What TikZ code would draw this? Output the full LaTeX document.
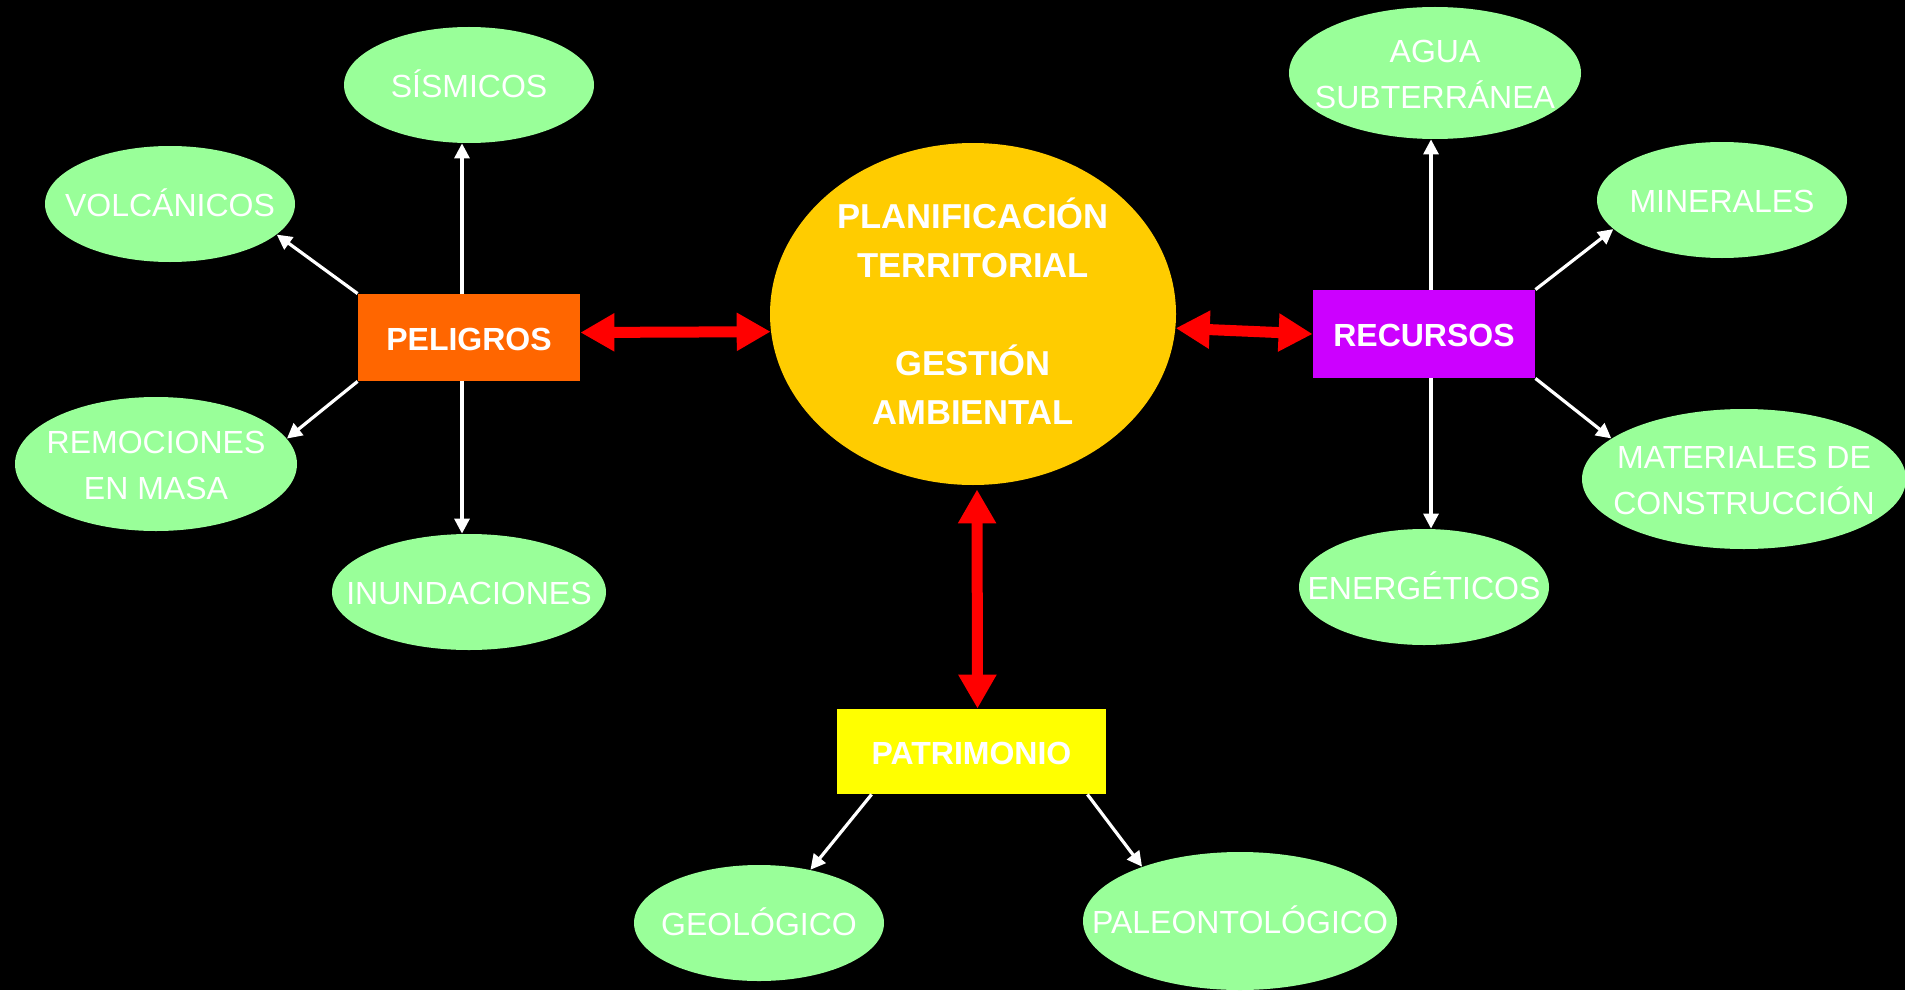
\documentclass[tikz,border=0pt]{standalone}
\usepackage{fontspec}
\setmainfont{Liberation Sans}
\usepackage{xcolor}
\usetikzlibrary{arrows.meta, shapes.geometric}
\definecolor{leafgreen}{HTML}{99FF99}
\definecolor{hazardorange}{HTML}{FF6600}
\definecolor{resourcepurple}{HTML}{CC00FF}
\definecolor{heritageyellow}{HTML}{FFFF00}
\definecolor{plangold}{HTML}{FFCC00}
\newcommand{\bubbletext}[1]{\makebox[0pt]{\raisebox{-1.5pt}[\height][\depth]{\begin{tabular}{@{}c@{}}#1\end{tabular}}}}
\newcommand{\hubtext}[1]{\raisebox{-0.8pt}[\height][\depth]{#1}}

\begin{document}
\begin{tikzpicture}[x=0.5pt, y=-0.5pt,
        leaf/.style={ellipse, fill=leafgreen, text=white, inner sep=0pt,
            minimum width=125pt, minimum height=58pt, font=\fontsize{16}{23}\selectfont},
        hub/.style={rectangle, text=white, inner sep=0pt,
            minimum width=111pt, minimum height=44pt, font=\bfseries\fontsize{16}{23}\selectfont},
        whitearrow/.style={color=white, line width=1.6pt, -{Triangle[width=7.5pt,length=7.5pt]}},
        redarrow/.style={color=red, line width=5.5pt,
            {Triangle[width=18pt,length=17pt]}-{Triangle[width=18pt,length=17pt]}}]
        \fill[black] (0,0) rectangle (1905,990);
        \useasboundingbox (0,0) rectangle (1905,990);

        % centre
        \node[ellipse, fill=plangold, text=white, inner sep=-4pt, minimum width=203pt, minimum height=171pt,
              font=\bfseries\fontsize{17.3}{24.5}\selectfont]
                                    (plan)   at (973,314)   {\bubbletext{PLANIFICACIÓN\\TERRITORIAL\\ \\GESTIÓN\\AMBIENTAL}};

        % hubs
        \node[hub, fill=hazardorange, minimum height=43.5pt]   (pel)    at (469,337.5)   {\hubtext{PELIGROS}};
        \node[hub, fill=resourcepurple]                         (rec)    at (1424,334)    {\hubtext{RECURSOS}};
        \node[hub, fill=heritageyellow, minimum width=134.5pt, minimum height=42.5pt]
                                                                (pat)    at (971.5,751.5) {\hubtext{PATRIMONIO}};

        % leaves
        \node[leaf]                                             (sism)   at (469,85)      {\bubbletext{SÍSMICOS}};
        \node[leaf]                                             (volc)   at (170,204)     {\bubbletext{VOLCÁNICOS}};
        \node[leaf, minimum width=141pt, minimum height=67pt]   (remo)   at (156,464)     {\bubbletext{REMOCIONES\\EN MASA}};
        \node[leaf, minimum width=137pt]                        (inun)   at (469,592)     {\bubbletext{INUNDACIONES}};
        \node[leaf, minimum width=146pt, minimum height=66pt]   (agua)   at (1435,73)     {\bubbletext{AGUA\\SUBTERRÁNEA}};
        \node[leaf]                                             (mine)   at (1722,200)    {\bubbletext{MINERALES}};
        \node[leaf, minimum width=162pt, minimum height=70pt]   (mate)   at (1744,479)    {\bubbletext{MATERIALES DE\\CONSTRUCCIÓN}};
        \node[leaf]                                             (ener)   at (1424,587)    {\bubbletext{ENERGÉTICOS}};
        \node[leaf]                                             (geol)   at (759,923)     {\bubbletext{GEOLÓGICO}};
        \node[leaf, minimum width=157pt, minimum height=69pt]   (paleo)  at (1240,921)    {\bubbletext{PALEONTOLÓGICO}};

        \path[redarrow]
        ([yshift=2.5pt]pel.east) edge (plan.185)
        (plan.-4.5) edge (rec.west)
        ([xshift=2pt,yshift=-2pt]plan.south) edge ([xshift=3pt]pat.north);

        \path[whitearrow]
        ([xshift=-3.5pt]pel.north) edge ([xshift=-3.5pt]sism.south)
        (pel.north west) edge (volc.-16)
        (pel.south west) edge (remo.11)
        ([xshift=-3.5pt]pel.south) edge ([xshift=-3.5pt]inun.north)
        ([xshift=3.5pt]rec.north) edge ([xshift=3.5pt]rec.north |- agua.south)
        (rec.north east) edge (mine.195)
        (rec.south east) edge (mate.163)
        ([xshift=3.5pt]rec.south) edge ([xshift=3.5pt]rec.south |- ener.north)
        ([xshift=17.5pt]pat.south west) edge (geol.46)
        ([xshift=-9.5pt]pat.south east) edge (paleo.151);
    \end{tikzpicture}
\end{document}
